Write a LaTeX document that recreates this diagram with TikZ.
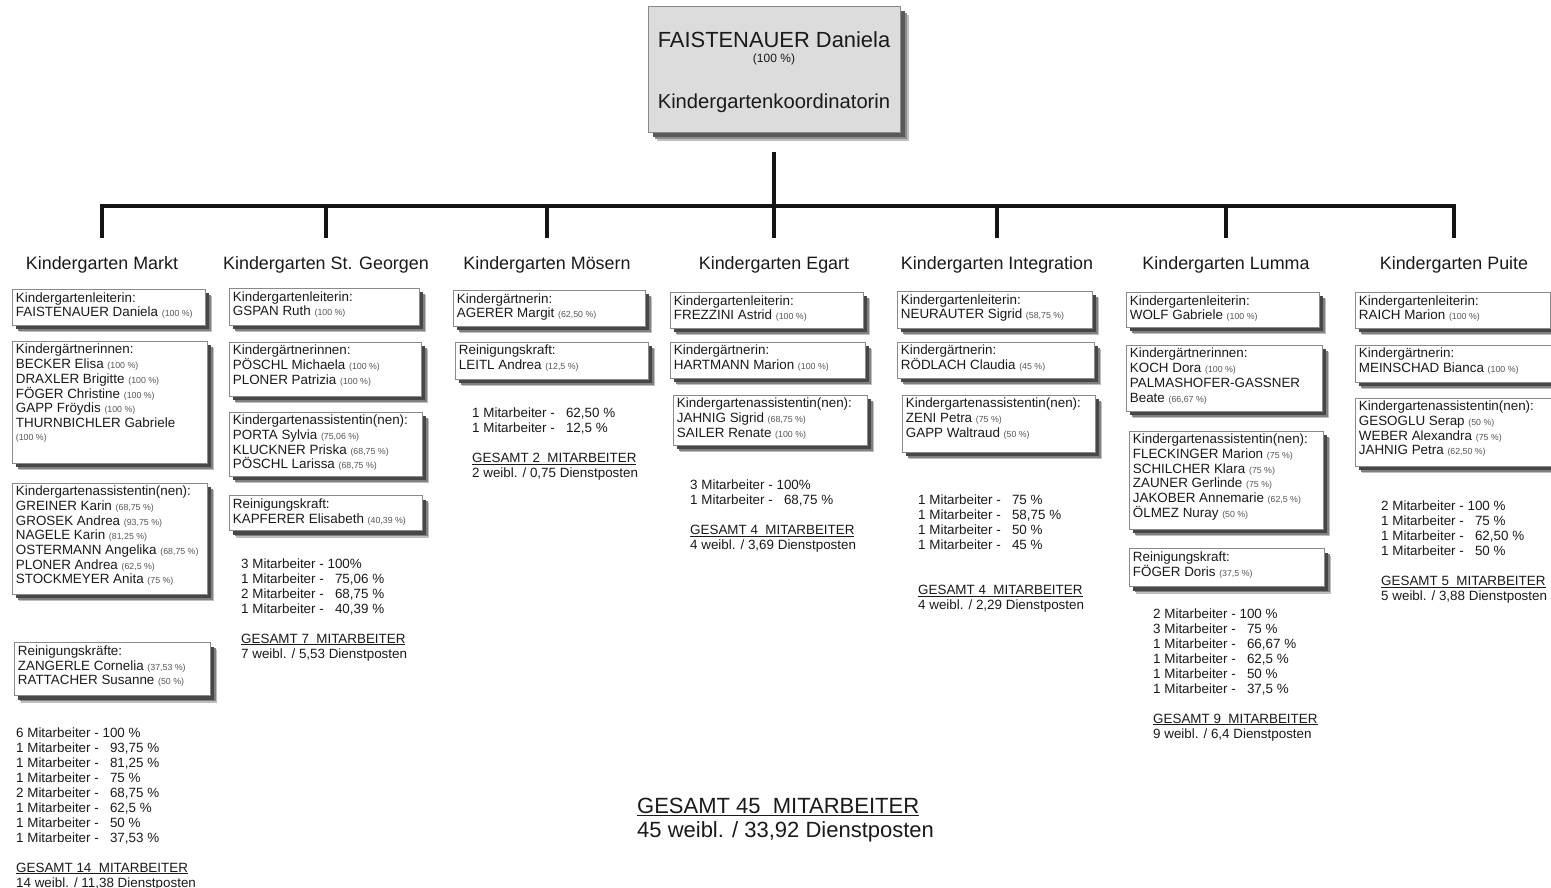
\documentclass[tikz,border=0pt]{standalone}
\usepackage{fontspec}
\setmainfont{Liberation Sans}
\usepackage{xcolor}
\usepackage{tikz}
\usetikzlibrary{positioning, shadows}

\definecolor{inkdark}{HTML}{1A1A1A}
\definecolor{pcgray}{HTML}{555555}
\definecolor{boxline}{HTML}{8A8A8A}
\definecolor{topfill}{HTML}{DCDCDC}

\newcommand{\boxfont}{\fontsize{13.4}{14.7}\selectfont}
\newcommand{\anteil}[1]{{\fontsize{8.8}{10}\selectfont\color{pcgray}(#1 \%)}}

\begin{document}
\begin{tikzpicture}[x=1pt, y=-1pt, inner sep=0pt, text=inkdark]

\tikzstyle{staffbox} = [rectangle, draw=boxline, line width=0.8pt, fill=white, anchor=north west, inner xsep=3.5pt, inner ysep=3pt, font=\boxfont, drop shadow={shadow xshift=7pt, shadow yshift=-7pt, fill=black!25, opacity=1}, drop shadow={shadow xshift=5.5pt, shadow yshift=-5.5pt, fill=black!50, opacity=1}, drop shadow={shadow xshift=4pt, shadow yshift=-4pt, fill=black!72, opacity=1}]
\tikzstyle{kgtitle} = [font=\fontsize{17.9}{20}\selectfont, inner sep=3pt]
\tikzstyle{summary} = [anchor=north west, align=left, font=\fontsize{13.4}{15}\selectfont, inner sep=0pt]
\tikzstyle{bus} = [line width=3.5pt, draw=black!92]

\useasboundingbox [fill=white] (0,0) rectangle (1551,888);

\node (koord) [rectangle, draw=boxline, line width=0.8pt, fill=topfill, minimum width=252pt, minimum height=126pt, align=center, font=\fontsize{21.9}{26}\selectfont, drop shadow={shadow xshift=9pt, shadow yshift=-9pt, fill=black!25, opacity=1}, drop shadow={shadow xshift=7pt, shadow yshift=-7pt, fill=black!45, opacity=1}, drop shadow={shadow xshift=5pt, shadow yshift=-5pt, fill=black!65, opacity=1}] at (774,69) {\rule{0pt}{23.1pt}FAISTENAUER Daniela\\[-11.6pt]{\fontsize{12}{14}\selectfont (100 \%)}\\[20.6pt]{\fontsize{20.2}{24}\selectfont Kindergartenkoordinatorin}};

% Kindergärten
\node (t1) [kgtitle] at (102,265) {Kindergarten Markt};
\node (t2) [kgtitle] at (326,265) {Kindergarten St. Georgen};
\node (t3) [kgtitle] at (547,265) {Kindergarten Mösern};
\node (t4) [kgtitle] at (774,265) {Kindergarten Egart};
\node (t5) [kgtitle] at (997,265) {Kindergarten Integration};
\node (t6) [kgtitle] at (1226,265) {Kindergarten Lumma};
\node (t7) [kgtitle] at (1454,265) {Kindergarten Puite};

\coordinate (hub) at (774,206);
\draw [bus, shorten <=20pt, shorten >=15.5pt] (koord.south) -- (t4.north);
\draw [bus, shorten <=15.5pt, shorten >=15.5pt] (t1.north) -- (t1 |- hub) -- (t7 |- hub) -- (t7.north);
\foreach \kg in {t2,t3,t5,t6}
  \draw [bus, shorten >=15.5pt] (\kg |- hub) -- (\kg.north);

% Markt
\node (m1) [staffbox] at (12,289) {\parbox[t][30pt][t]{186pt}{Kindergartenleiterin:\\FAISTENAUER Daniela \anteil{100}}};
\node (m2) [staffbox, below=15pt of m1.south west, anchor=north west] {\parbox[t][116pt][t]{188pt}{Kindergärtnerinnen:\\BECKER Elisa \anteil{100}\\DRAXLER Brigitte \anteil{100}\\FÖGER Christine \anteil{100}\\GAPP Fröydis \anteil{100}\\THURNBICHLER Gabriele\\[-2pt]\anteil{100}}};
\node (m3) [staffbox, below=19pt of m2.south west, anchor=north west] {\parbox[t][105pt][t]{188pt}{Kindergartenassistentin(nen):\\GREINER Karin \anteil{68,75}\\GROSEK Andrea \anteil{93,75}\\NAGELE Karin \anteil{81,25}\\OSTERMANN Angelika \anteil{68,75}\\PLONER Andrea \anteil{62,5}\\STOCKMEYER Anita \anteil{75}}};
\node (m4) [staffbox, below=48pt of m3.south west, anchor=north west, xshift=2pt] {\parbox[t][47pt][t]{189pt}{Reinigungskräfte:\\ZANGERLE Cornelia \anteil{37,53}\\RATTACHER Susanne \anteil{50}}};
\node (s1) [summary, below=31pt of m4.south west, anchor=north west, xshift=2pt] {6 Mitarbeiter - 100 \%\\1 Mitarbeiter -\ \ \ 93,75 \%\\1 Mitarbeiter -\ \ \ 81,25 \%\\1 Mitarbeiter -\ \ \ 75 \%\\2 Mitarbeiter -\ \ \ 68,75 \%\\1 Mitarbeiter -\ \ \ 62,5 \%\\1 Mitarbeiter -\ \ \ 50 \%\\1 Mitarbeiter -\ \ \ 37,53 \%\\[15pt]\underline{GESAMT 14\ \ MITARBEITER}\\14 weibl. / 11,38 Dienstposten};

% St. Georgen
\node (g1) [staffbox] at (229,288) {\parbox[t][31pt][t]{183pt}{Kindergartenleiterin:\\GSPAN Ruth \anteil{100}}};
\node (g2) [staffbox, below=16pt of g1.south west, anchor=north west] {\parbox[t][48pt][t]{185pt}{Kindergärtnerinnen:\\PÖSCHL Michaela \anteil{100}\\PLONER Patrizia \anteil{100}}};
\node (g3) [staffbox, below=15pt of g2.south west, anchor=north west] {\parbox[t][58pt][t]{186pt}{Kindergartenassistentin(nen):\\PORTA Sylvia \anteil{75,06}\\KLUCKNER Priska \anteil{68,75}\\PÖSCHL Larissa \anteil{68,75}}};
\node (g4) [staffbox, below=19pt of g3.south west, anchor=north west] {\parbox[t][29pt][t]{186pt}{Reinigungskraft:\\KAPFERER Elisabeth \anteil{40,39}}};
\node (s2) [summary, below=27pt of g4.south west, anchor=north west, xshift=12pt] {3 Mitarbeiter - 100\%\\1 Mitarbeiter -\ \ \ 75,06 \%\\2 Mitarbeiter -\ \ \ 68,75 \%\\1 Mitarbeiter -\ \ \ 40,39 \%\\[15pt]\underline{GESAMT 7\ \ MITARBEITER}\\7 weibl. / 5,53 Dienstposten};

% Mösern
\node (o1) [staffbox] at (453,290) {\parbox[t][30pt][t]{185pt}{Kindergärtnerin:\\AGERER Margit \anteil{62,50}}};
\node (o2) [staffbox, below=15pt of o1.south west, anchor=north west, xshift=2pt] {\parbox[t][31pt][t]{186pt}{Reinigungskraft:\\LEITL Andrea \anteil{12,5}}};
\node (s3) [summary, below=28pt of o2.south west, anchor=north west, xshift=17pt] {1 Mitarbeiter -\ \ \ 62,50 \%\\1 Mitarbeiter -\ \ \ 12,5 \%\\[15pt]\underline{GESAMT 2\ \ MITARBEITER}\\2 weibl. / 0,75 Dienstposten};

% Egart
\node (e1) [staffbox] at (670,292) {\parbox[t][30pt][t]{186pt}{Kindergartenleiterin:\\FREZZINI Astrid \anteil{100}}};
\node (e2) [staffbox, below=13pt of e1.south west, anchor=north west] {\parbox[t][30pt][t]{188pt}{Kindergärtnerin:\\HARTMANN Marion \anteil{100}}};
\node (e3) [staffbox, below=16pt of e2.south west, anchor=north west, xshift=3pt] {\parbox[t][44pt][t]{187pt}{Kindergartenassistentin(nen):\\JAHNIG Sigrid \anteil{68,75}\\SAILER Renate \anteil{100}}};
\node (s4) [summary, below=34pt of e3.south west, anchor=north west, xshift=17pt] {3 Mitarbeiter - 100\%\\1 Mitarbeiter -\ \ \ 68,75 \%\\[15pt]\underline{GESAMT 4\ \ MITARBEITER}\\4 weibl. / 3,69 Dienstposten};

% Integration
\node (i1) [staffbox] at (897,291) {\parbox[t][31pt][t]{188pt}{Kindergartenleiterin:\\NEURAUTER Sigrid \anteil{58,75}}};
\node (i2) [staffbox, below=13pt of i1.south west, anchor=north west] {\parbox[t][30pt][t]{190pt}{Kindergärtnerin:\\RÖDLACH Claudia \anteil{45}}};
\node (i3) [staffbox, below=16pt of i2.south west, anchor=north west, xshift=5pt] {\parbox[t][51pt][t]{186pt}{Kindergartenassistentin(nen):\\ZENI Petra \anteil{75}\\GAPP Waltraud \anteil{50}}};
\node (s5) [summary, below=42pt of i3.south west, anchor=north west, xshift=16pt] {1 Mitarbeiter -\ \ \ 75 \%\\1 Mitarbeiter -\ \ \ 58,75 \%\\1 Mitarbeiter -\ \ \ 50 \%\\1 Mitarbeiter -\ \ \ 45 \%\\[30pt]\underline{GESAMT 4\ \ MITARBEITER}\\4 weibl. / 2,29 Dienstposten};

% Lumma
\node (l1) [staffbox] at (1126,292) {\parbox[t][29pt][t]{186pt}{Kindergartenleiterin:\\WOLF Gabriele \anteil{100}}};
\node (l2) [staffbox, below=17pt of l1.south west, anchor=north west] {\parbox[t][60pt][t]{189pt}{Kindergärtnerinnen:\\KOCH Dora \anteil{100}\\PALMASHOFER-GASSNER\\Beate \anteil{66,67}}};
\node (l3) [staffbox, below=19pt of l2.south west, anchor=north west, xshift=3pt] {\parbox[t][92pt][t]{187pt}{Kindergartenassistentin(nen):\\FLECKINGER Marion \anteil{75}\\SCHILCHER Klara \anteil{75}\\ZAUNER Gerlinde \anteil{75}\\JAKOBER Annemarie \anteil{62,5}\\ÖLMEZ Nuray \anteil{50}}};
\node (l4) [staffbox, below=19pt of l3.south west, anchor=north west] {\parbox[t][32pt][t]{188pt}{Reinigungskraft:\\FÖGER Doris \anteil{37,5}}};
\node (s6) [summary, below=21pt of l4.south west, anchor=north west, xshift=24pt] {2 Mitarbeiter - 100 \%\\3 Mitarbeiter -\ \ \ 75 \%\\1 Mitarbeiter -\ \ \ 66,67 \%\\1 Mitarbeiter -\ \ \ 62,5 \%\\1 Mitarbeiter -\ \ \ 50 \%\\1 Mitarbeiter -\ \ \ 37,5 \%\\[15pt]\underline{GESAMT 9\ \ MITARBEITER}\\9 weibl. / 6,4 Dienstposten};

% Puite
\node (p1) [staffbox] at (1355,292) {\parbox[t][30pt][t]{188pt}{Kindergartenleiterin:\\RAICH Marion \anteil{100}}};
\node (p2) [staffbox, below=16pt of p1.south west, anchor=north west] {\parbox[t][31pt][t]{189pt}{Kindergärtnerin:\\MEINSCHAD Bianca \anteil{100}}};
\node (p3) [staffbox, below=15pt of p2.south west, anchor=north west] {\parbox[t][62pt][t]{189pt}{Kindergartenassistentin(nen):\\GESOGLU Serap \anteil{50}\\WEBER Alexandra \anteil{75}\\JAHNIG Petra \anteil{62,50}}};
\node (s7) [summary, below=34pt of p3.south west, anchor=north west, xshift=26pt] {2 Mitarbeiter - 100 \%\\1 Mitarbeiter -\ \ \ 75 \%\\1 Mitarbeiter -\ \ \ 62,50 \%\\1 Mitarbeiter -\ \ \ 50 \%\\[15pt]\underline{GESAMT 5\ \ MITARBEITER}\\5 weibl. / 3,88 Dienstposten};

% Gesamt
\node (total) [summary, font=\fontsize{22}{24}\selectfont] at (637,798) {\underline{GESAMT 45\ \ MITARBEITER}\\45 weibl. / 33,92 Dienstposten};
\end{tikzpicture}
\end{document}
